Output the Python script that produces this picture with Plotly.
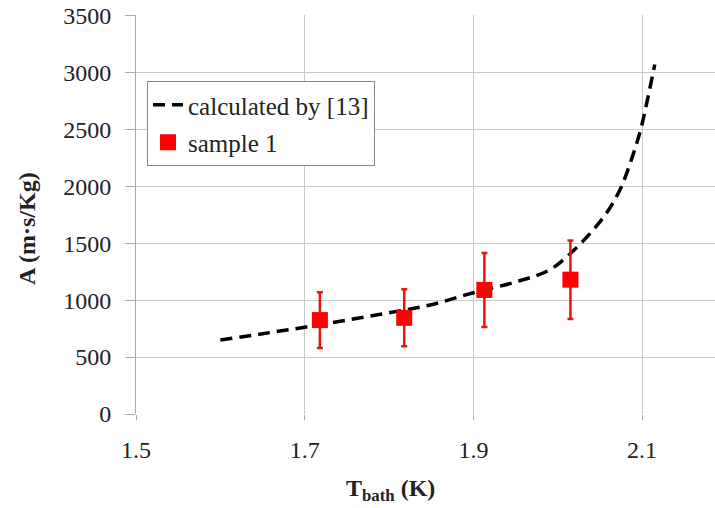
import plotly.graph_objects as go

# calculated curve
calc_T = [1.60, 1.65, 1.70, 1.75, 1.80, 1.85, 1.90, 1.95, 1.99, 2.015, 2.04, 2.06, 2.075, 2.088, 2.098, 2.106, 2.115]
calc_A = [650, 705, 762, 825, 890, 960, 1065, 1160, 1265, 1410, 1600, 1790, 1990, 2250, 2490, 2750, 3070]

# sample 1
s_T = [1.718, 1.818, 1.913, 2.015]
s_A = [825, 845, 1090, 1180]
s_err = [245, 250, 325, 345]

x_ticks = [1.5, 1.7, 1.9, 2.1]
y_ticks = [0, 500, 1000, 1500, 2000, 2500, 3000, 3500]

FONT = "Liberation Serif, Times New Roman, serif"
W, H = 715, 508
L, T = 136, 15
B = H - 414
PW, PH = W - L, H - T - B


def px(xp):
    return (xp - L) / PW


def py(yp):
    return (H - B - yp) / PH


fig = go.Figure()
fig.add_trace(go.Scatter(
    x=calc_T, y=calc_A, mode="lines", name="calculated by [13]",
    line=dict(color="black", width=3.5, dash="12px,7px", shape="spline"),
    legendgroup="a",
))
fig.add_trace(go.Scatter(
    x=s_T, y=s_A, mode="markers", name="sample 1",
    marker=dict(symbol="square", size=16, color="#ff0000"),
    error_y=dict(type="data", array=s_err, color="#ee1111", thickness=2.5, width=3),
    legendgroup="b",
))

fig.update_layout(
    width=W, height=H,
    margin=dict(l=L, r=0, t=T, b=B),
    paper_bgcolor="white", plot_bgcolor="white",
    font=dict(family=FONT, size=24, color="#222"),
    showlegend=True,
    legend=dict(
        x=px(147), y=py(81), xanchor="left", yanchor="top",
        bgcolor="white", bordercolor="#888", borderwidth=1,
        font=dict(family=FONT, size=25, color="#222"),
        tracegroupgap=2,
    ),
    xaxis=dict(
        range=[1.5, 2.1864], tickvals=x_ticks, ticktext=[f"{v:.1f}" for v in x_ticks],
        showgrid=True, gridcolor="#c8c8c8", gridwidth=1,
        showline=False, zeroline=False, automargin=False,
        ticks="outside", ticklen=5, tickcolor="#aaa", ticklabelstandoff=9,
        ticklabeloverflow="allow",
        tickfont=dict(family=FONT, size=24, color="#222"),
    ),
    yaxis=dict(
        range=[0, 3505], tickvals=y_ticks,
        showgrid=True, gridcolor="#c8c8c8", gridwidth=1,
        showline=True, linecolor="#aaa", linewidth=1, zeroline=False, automargin=False,
        ticks="outside", ticklen=10, tickcolor="#aaa", ticklabelstandoff=9,
        ticklabeloverflow="allow",
        tickfont=dict(family=FONT, size=24, color="#222"),
    ),
    annotations=[
        dict(text="<b>A (m·s/Kg)</b>", textangle=-90, xref="paper", yref="paper",
             x=px(27), y=py(229), xanchor="center", yanchor="middle",
             showarrow=False, font=dict(family=FONT, size=24, color="#222")),
        dict(text="<b>T<sub>bath</sub> (K)</b>", xref="paper", yref="paper",
             x=px(390), y=py(490), xanchor="center", yanchor="middle",
             showarrow=False, font=dict(family=FONT, size=24, color="#222")),
    ],
)

fig.write_html("out.html", config={"displayModeBar": False},
               post_script="document.body.style.margin='0';")
